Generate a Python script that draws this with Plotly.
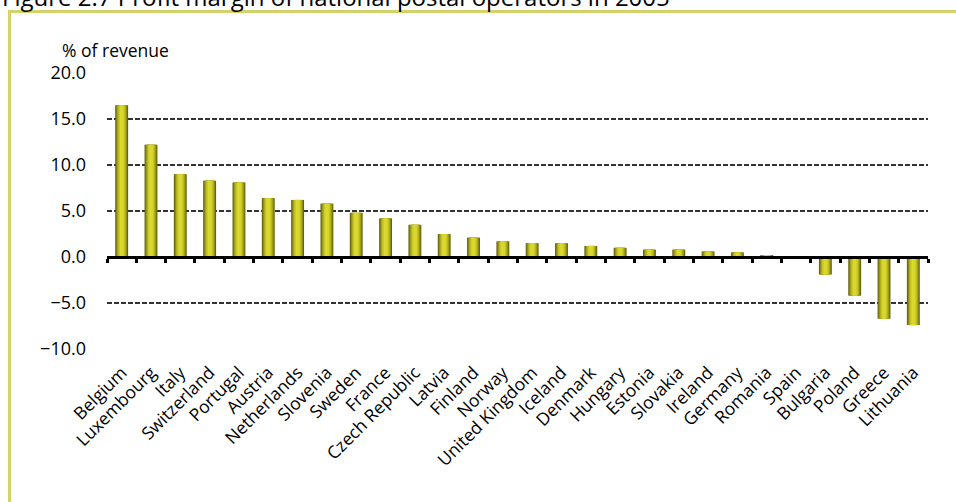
import plotly.graph_objects as go

# Profit margin of national postal operators, 2005 (% of revenue)
countries = [
    "Belgium", "Luxembourg", "Italy", "Switzerland", "Portugal", "Austria",
    "Netherlands", "Slovenia", "Sweden", "France", "Czech Republic", "Latvia",
    "Finland", "Norway", "United Kingdom", "Iceland", "Denmark", "Hungary",
    "Estonia", "Slovakia", "Ireland", "Germany", "Romania", "Spain",
    "Bulgaria", "Poland", "Greece", "Lithuania",
]
profit_margin = [
    16.5, 12.2, 9.0, 8.3, 8.1, 6.4,
    6.2, 5.8, 4.8, 4.2, 3.5, 2.5,
    2.1, 1.7, 1.5, 1.5, 1.2, 1.0,
    0.8, 0.8, 0.6, 0.5, 0.2, 0.0,
    -1.9, -4.2, -6.7, -7.4,
]
y_ticks = [-10, -5, 0, 5, 10, 15, 20]

W, H = 956, 502
ML, MR, MT, MB = 107, 28, 73, 153
PW, PH = W - ML - MR, H - MT - MB


def px_x(px):
    return (px - ML) / PW


def px_y(py):
    return (H - MB - py) / PH


FONT = "Open Sans"
TEXT = "#000000"

fig = go.Figure()

# Cylinder-like shading: stacked overlays, dark at the edges, bright in the middle
shading = [
    (0.44, "#676510"),
    (0.37, "#8c8a16"),
    (0.30, "#adab1e"),
    (0.22, "#c8c626"),
    (0.13, "#d9d82e"),
]
for width, color in shading:
    fig.add_trace(go.Bar(
        x=countries, y=profit_margin, width=width,
        marker=dict(color=color, line=dict(width=0)),
        showlegend=False, hoverinfo="skip",
    ))

# Invisible trace carrying the zero-level category axis with boundary ticks
fig.add_trace(go.Scatter(
    x=countries, y=profit_margin, xaxis="x2", mode="none",
    showlegend=False, hoverinfo="skip",
))

fig.update_layout(
    width=W, height=H,
    margin=dict(l=ML, r=MR, t=MT, b=MB),
    paper_bgcolor="white", plot_bgcolor="white",
    barmode="overlay",
    font=dict(family=FONT, color=TEXT),
    xaxis=dict(
        type="category", range=[-0.5, len(countries) - 0.5],
        tickangle=-45, ticks="", showline=False, showgrid=False,
        tickfont=dict(family=FONT, size=17.5, color=TEXT),
        ticklabelstandoff=9,
    ),
    xaxis2=dict(
        type="category", overlaying="x", anchor="free",
        position=(0 - y_ticks[0]) / (y_ticks[-1] - y_ticks[0]),
        range=[-0.5, len(countries) - 0.5],
        showline=True, linecolor="black", linewidth=3,
        ticks="outside", tickson="boundaries", ticklen=4, tickwidth=3,
        tickcolor="black", showticklabels=False, showgrid=False,
        side="bottom",
    ),
    yaxis=dict(
        range=[y_ticks[0], y_ticks[-1]], tickvals=y_ticks, tickformat=".1f",
        showgrid=True, gridcolor="#333333", gridwidth=1.8, griddash="5px,2px",
        zeroline=False, showline=False, ticks="",
        tickfont=dict(family=FONT, size=18, color=TEXT),
        ticklabelstandoff=20,
    ),
    shapes=[
        dict(
            type="rect", xref="paper", yref="paper", layer="below",
            x0=px_x(9.5), x1=px_x(W + 20), y0=px_y(H + 20), y1=px_y(11.5),
            line=dict(color="#d4d26a", width=3), fillcolor="rgba(0,0,0,0)",
        ),
    ],
    annotations=[
        dict(
            text="% of revenue", xref="paper", yref="paper",
            x=px_x(60), y=px_y(50), xanchor="left", yanchor="middle",
            showarrow=False, font=dict(family=FONT, size=17.5, color=TEXT),
        ),
        dict(
            text="Figure 2.7 Profit margin of national postal operators in 2005",
            xref="paper", yref="paper",
            x=px_x(0), y=px_y(-4), xanchor="left", yanchor="middle",
            showarrow=False, font=dict(family=FONT, size=24, color=TEXT),
        ),
    ],
)

fig.write_html("out.html")
